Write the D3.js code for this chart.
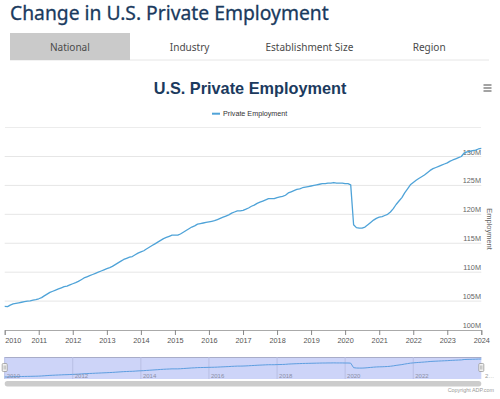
<!DOCTYPE html>
<html><head><meta charset="utf-8">
<script src="https://cdn.jsdelivr.net/npm/d3@7"></script>
<style>body{margin:0;background:#fff;overflow:hidden;} svg{display:block;}</style>
</head><body>
<svg id="c" width="500" height="399"></svg>
<script>
const pageTitle = "Change in U.S. Private Employment";
const tabs = ["National", "Industry", "Establishment Size", "Region"];
const chartTitle = "U.S. Private Employment";
const seriesName = "Private Employment";
const yAxisTitle = "Employment";
const copyright = "Copyright ADP.com";
const firstMonth = "2010-01";
const yTicks = [100, 105, 110, 115, 120, 125, 130];
const yTickLabels = ["100M", "105M", "110M", "115M", "120M", "125M", "130M"];
const xTickYears = [2010, 2011, 2012, 2013, 2014, 2015, 2016, 2017, 2018, 2019, 2020, 2021, 2022, 2023, 2024];
const navYears = [2010, 2012, 2014, 2016, 2018, 2020, 2022];
// monthly U.S. private employment, millions, Jan 2010 .. Jan 2024
const employment = [
  104.07, 104.05, 104.3, 104.5, 104.6, 104.7, 104.8, 104.9, 105.0, 105.05, 105.15, 105.25,
  105.4, 105.6, 105.9, 106.2, 106.5, 106.7, 106.9, 107.1, 107.3, 107.5, 107.6, 107.8,
  108.0, 108.2, 108.4, 108.7, 109.0, 109.2, 109.4, 109.6, 109.8, 110.0, 110.2, 110.4,
  110.6, 110.8, 111.0, 111.3, 111.6, 111.9, 112.2, 112.4, 112.6, 112.7, 113.0, 113.3,
  113.5, 113.7, 114.0, 114.3, 114.6, 114.9, 115.2, 115.5, 115.8, 116.0, 116.2, 116.4,
  116.4, 116.4, 116.6, 116.9, 117.2, 117.5, 117.8, 118.0, 118.3, 118.4, 118.5, 118.6,
  118.7, 118.8, 118.9, 119.1, 119.3, 119.5, 119.7, 119.9, 120.2, 120.4, 120.6, 120.6,
  120.7, 120.9, 121.1, 121.4, 121.6, 121.9, 122.1, 122.3, 122.5, 122.7, 122.7, 122.7,
  122.9, 123.0, 123.1, 123.3, 123.7, 123.9, 124.1, 124.3, 124.4, 124.6, 124.7, 124.8,
  124.9, 125.0, 125.1, 125.2, 125.3, 125.3, 125.4, 125.4, 125.5, 125.4, 125.4, 125.4,
  125.3, 125.3, 125.1, 118.2, 117.7, 117.6, 117.6, 117.8, 118.2, 118.6, 119.0, 119.3,
  119.5, 119.6, 119.8, 120.0, 120.4, 121.0, 121.7, 122.3, 122.9, 123.7, 124.4, 125.1,
  125.5, 125.9, 126.2, 126.5, 126.8, 127.2, 127.6, 127.9, 128.1, 128.3, 128.5, 128.7,
  128.9, 129.2, 129.4, 129.6, 129.8, 130.0, 130.6, 130.8, 130.9, 131.0, 131.1, 131.3,
  131.4
];

const parseMonth = d3.timeParse("%Y-%m");
const start = parseMonth(firstMonth);
const data = employment.map((v, i) => ({ date: d3.timeMonth.offset(start, i), value: v }));

const svg = d3.select("#c");
const sans = "'Noto Sans', sans-serif";
const arial = "'Liberation Sans', Arial, sans-serif";

function fit(sel, target) {
  const w = sel.node().getComputedTextLength();
  const fs = parseFloat(sel.attr("font-size"));
  sel.attr("font-size", (fs * target / w).toFixed(2));
  return sel;
}

// page header
fit(svg.append("text").attr("x", 10).attr("y", 19.5).attr("font-family", sans)
  .attr("font-size", 22).attr("fill", "#1a3a5e").attr("stroke", "#1a3a5e").attr("stroke-width", 0.3)
  .text(pageTitle), 319);

// tabs
const tabX = d3.scaleBand().domain(tabs).range([10, 489]);
svg.append("line").attr("x1", 10).attr("x2", 489).attr("y1", 60).attr("y2", 60)
  .attr("stroke", "#e6e6e6").attr("stroke-width", 1);
svg.append("rect").attr("x", tabX(tabs[0])).attr("y", 33).attr("width", 120).attr("height", 27)
  .attr("fill", "#cacaca");
const tabTexts = svg.selectAll("text.tab").data(tabs).join("text").attr("class", "tab")
  .attr("x", d => tabX(d) + tabX.bandwidth() / 2).attr("y", 51)
  .attr("text-anchor", "middle").attr("font-family", sans).attr("font-size", 12)
  .attr("fill", "#4a4a4a").text(d => d);
{
  const w = tabTexts.nodes()[0].getComputedTextLength();
  tabTexts.attr("font-size", (12 * 40 / w).toFixed(2));
}

// chart title
svg.append("text").attr("x", 250).attr("y", 94).attr("text-anchor", "middle")
  .attr("font-family", arial).attr("font-weight", "bold").attr("font-size", 16.3)
  .attr("fill", "#1b3a5e").text(chartTitle);

// hamburger
[85, 88, 91].forEach(yy => svg.append("line").attr("x1", 483.5).attr("x2", 491.5)
  .attr("y1", yy).attr("y2", yy).attr("stroke", "#666").attr("stroke-width", 1.2));

// legend
svg.append("line").attr("x1", 212).attr("x2", 220).attr("y1", 113.7).attr("y2", 113.7)
  .attr("stroke", "#4fa3d8").attr("stroke-width", 2);
svg.append("text").attr("x", 223).attr("y", 116.3).attr("font-family", arial)
  .attr("font-size", 7.2).attr("fill", "#333").text(seriesName);

// separator
svg.append("line").attr("x1", 5).attr("x2", 481).attr("y1", 127.5).attr("y2", 127.5)
  .attr("stroke", "#ececec").attr("stroke-width", 1);

// scales
const x = d3.scaleTime().domain([start, d3.timeMonth.offset(start, employment.length - 1)]).range([4.7, 481.3]);
const y = d3.scaleLinear().domain([100, 130]).range([330, 156.5]);

// grid
svg.append("g").selectAll("line").data(yTicks.slice(1)).join("line")
  .attr("x1", 4.7).attr("x2", 481.3).attr("y1", d => y(d)).attr("y2", d => y(d))
  .attr("stroke", "#e6e6e6").attr("stroke-width", 1);

// y labels (inside, right-aligned)
svg.append("g").selectAll("text").data(yTicks).join("text")
  .attr("x", 481).attr("y", d => y(d) - 2).attr("text-anchor", "end")
  .attr("font-family", arial).attr("font-size", 7.3).attr("fill", "#666")
  .text((d, i) => yTickLabels[i]);

// y title
svg.append("text").attr("transform", "translate(487,229) rotate(90)")
  .attr("text-anchor", "middle").attr("font-family", arial).attr("font-size", 7.5)
  .attr("fill", "#666").text(yAxisTitle);

// x axis
const xAxis = d3.axisBottom(x)
  .tickValues(xTickYears.map(yr => new Date(yr, 0, 1)))
  .tickFormat(d3.timeFormat("%Y")).tickSize(5).tickPadding(3);
const gx = svg.append("g").attr("transform", "translate(0,330)").call(xAxis);
gx.select(".domain").attr("stroke", "#aaa");
gx.selectAll(".tick line").attr("stroke", "#888");
gx.selectAll(".tick text").attr("font-family", arial).attr("font-size", 7.3).attr("fill", "#555")
  .attr("text-anchor", (d, i) => i === 0 ? "start" : "middle");

// line
const line = d3.line().x(d => x(d.date)).y(d => y(d.value));
svg.append("path").datum(data).attr("d", line).attr("fill", "none")
  .attr("stroke", "#4fa3d8").attr("stroke-width", 1.3).attr("stroke-linejoin", "round");

// navigator
const navTop = 357, navBot = 379;
svg.append("rect").attr("x", 4.7).attr("y", navTop).attr("width", 481.3 - 4.7).attr("height", navBot - navTop)
  .attr("fill", "#cdd4f8");
svg.append("line").attr("x1", 4.7).attr("x2", 481.3).attr("y1", navTop + 0.5).attr("y2", navTop + 0.5)
  .attr("stroke", "#a8acc8").attr("stroke-width", 1);
svg.append("g").selectAll("line").data(navYears).join("line")
  .attr("x1", d => x(new Date(d, 0, 1))).attr("x2", d => x(new Date(d, 0, 1)))
  .attr("y1", navTop).attr("y2", navBot).attr("stroke", "#b9bfe4").attr("stroke-width", 1);
const yn = d3.scaleLinear().domain(d3.extent(employment)).range([377, 359]);
svg.append("path").datum(data).attr("d", d3.line().x(d => x(d.date)).y(d => yn(d.value)))
  .attr("fill", "none").attr("stroke", "#5d9ee0").attr("stroke-width", 1);
svg.append("g").selectAll("text").data(navYears).join("text")
  .attr("x", d => x(new Date(d, 0, 1)) + 2).attr("y", 377.5)
  .attr("font-family", arial).attr("font-size", 6).attr("fill", "#8c8fa6").text(d => d);
svg.append("text").attr("x", 485).attr("y", 377.5).attr("font-family", arial)
  .attr("font-size", 6).attr("fill", "#999").text("2…");
// handles
[4.7, 481.3].forEach(hx => {
  svg.append("rect").attr("x", hx - 2.5).attr("y", 363.5).attr("width", 5).attr("height", 8)
    .attr("rx", 1).attr("fill", "#f2f2f2").attr("stroke", "#999").attr("stroke-width", 0.8);
  svg.append("line").attr("x1", hx - 0.6).attr("x2", hx - 0.6).attr("y1", 365.5).attr("y2", 369.5)
    .attr("stroke", "#999").attr("stroke-width", 0.6);
  svg.append("line").attr("x1", hx + 0.6).attr("x2", hx + 0.6).attr("y1", 365.5).attr("y2", 369.5)
    .attr("stroke", "#999").attr("stroke-width", 0.6);
});

// scrollbar
svg.append("rect").attr("x", 4.7).attr("y", 381).attr("width", 481.3 - 4.7).attr("height", 5.5)
  .attr("rx", 2.75).attr("fill", "#cccccc");

// copyright
svg.append("text").attr("x", 494).attr("y", 391.5).attr("text-anchor", "end")
  .attr("font-family", arial).attr("font-size", 5.4).attr("fill", "#999").text(copyright);
</script>
</body></html>
